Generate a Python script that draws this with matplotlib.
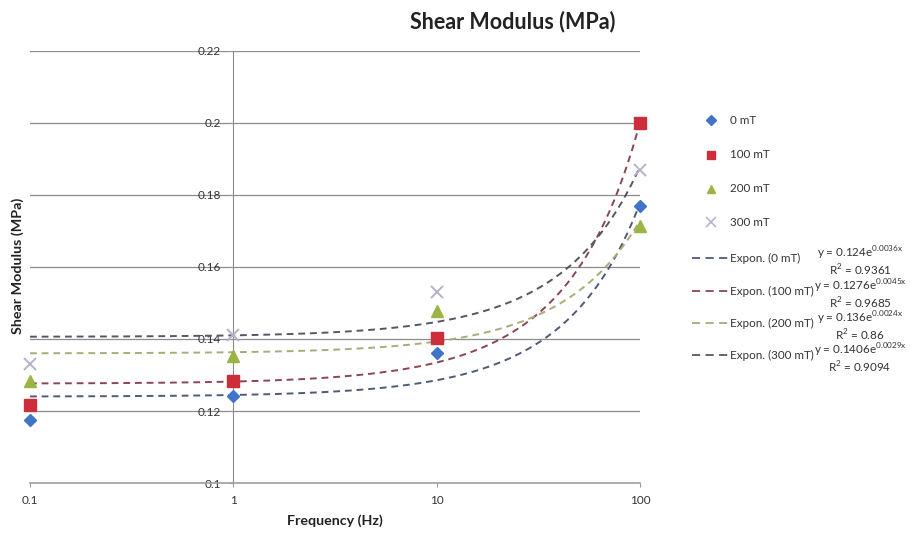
import numpy as np
import matplotlib
matplotlib.use("Agg")
import matplotlib.pyplot as plt
from matplotlib.lines import Line2D

plt.rcParams['font.family'] = ['Lato', 'DejaVu Sans']
plt.rcParams['mathtext.fontset'] = 'custom'
plt.rcParams['mathtext.rm'] = 'Lato'

# Measured shear modulus per field strength
freq = [0.1, 1, 10, 100]
series_names = ["0 mT", "100 mT", "200 mT", "300 mT"]
g_0mT = [0.1175, 0.1242, 0.1361, 0.1769]
g_100mT = [0.1217, 0.1283, 0.1403, 0.2000]
g_200mT = [0.1283, 0.1353, 0.1478, 0.1714]
g_300mT = [0.1330, 0.1411, 0.1530, 0.1869]

# Exponential fits y = a * exp(b * x)
fit_a = [0.124, 0.1276, 0.136, 0.1406]
fit_b = [0.0036, 0.0045, 0.0024, 0.0029]
fit_a_text = ["0.124", "0.1276", "0.136", "0.1406"]
fit_b_text = ["0.0036", "0.0045", "0.0024", "0.0029"]
fit_r2 = ["0.9361", "0.9685", "0.86", "0.9094"]

yticks = [0.1, 0.12, 0.14, 0.16, 0.18, 0.2, 0.22]
ytick_labels = ["0.1", "0.12", "0.14", "0.16", "0.18", "0.2", "0.22"]
xticks = [0.1, 1, 10, 100]
xtick_labels = ["0.1", "1", "10", "100"]

values = [g_0mT, g_100mT, g_200mT, g_300mT]
marker_colors = ["#3f74c8", "#cc2e3a", "#9bb544", "#b4b4cc"]
markers = ["D", "s", "^", "x"]
msizes = [6.5, 8, 8, 9]
trend_colors = ["#4e5a78", "#8a4654", "#a9ab78", "#555765"]

W, H = 910, 533
fig = plt.figure(figsize=(W / 100, H / 100), dpi=100)
ax = fig.add_axes([30 / W, 1 - 483 / H, (640 - 30) / W, (483 - 51) / H])

ax.set_xscale("log")
ax.set_xlim(0.1, 100)
ax.set_ylim(0.1, 0.22)
ax.minorticks_off()

ax.set_yticks(yticks)
ax.set_yticklabels(ytick_labels)
ax.set_xticks(xticks)
ax.set_xticklabels(xtick_labels)
ax.tick_params(axis="both", labelsize=8.5, colors="#333333", length=3, width=0.8)
ax.tick_params(axis="x", pad=6, color="#999999")
ax.tick_params(axis="y", color="#999999", pad=6)

for s in ["top", "right"]:
    ax.spines[s].set_visible(False)
ax.spines["left"].set_position(("data", 1))
ax.spines["left"].set_color("#8c8c8c")
ax.spines["bottom"].set_color("#a0a0a0")
ax.spines["bottom"].set_linewidth(1.2)
ax.yaxis.grid(True, color="#8c8c8c", linewidth=0.9)
ax.set_axisbelow(True)

xs = np.logspace(-1, 2, 400)
for a, b, c in zip(fit_a, fit_b, trend_colors):
    ax.plot(xs, a * np.exp(b * xs), linestyle=(0, (3.5, 2.5)), color=c, linewidth=1.4, zorder=2)

for v, m, c, ms in zip(values, markers, marker_colors, msizes):
    if m == "x":
        ax.plot(freq, v, linestyle="none", marker=m, markersize=ms, markeredgecolor=c,
                markeredgewidth=1.4, zorder=3, clip_on=False)
    else:
        ax.plot(freq, v, linestyle="none", marker=m, markersize=ms, color=c,
                markeredgecolor=c, zorder=3, clip_on=False)

fig.text(513 / W, 1 - 22 / H, "Shear Modulus (MPa)", ha="center", va="center",
         fontsize=15.5, fontweight="bold", color="#222222")
fig.text(335 / W, 1 - 521 / H, "Frequency (Hz)", ha="center", va="center",
         fontsize=10.3, fontweight="bold", color="#222222")
fig.text(18 / W, 1 - 266 / H, "Shear Modulus (MPa)", ha="center", va="center",
         rotation=90, fontsize=10.3, fontweight="bold", color="#222222")

# Legend drawn in figure pixel coordinates
def fx(px):
    return px / W

def fy(py):
    return 1 - py / H

marker_rows = [120, 155, 189, 222]
for name, m, c, ms, yy in zip(series_names, markers, marker_colors, msizes, marker_rows):
    kw = dict(marker=m, markersize=ms * 0.8, linestyle="none", transform=fig.transFigure)
    if m == "x":
        kw.update(markeredgecolor=c, markeredgewidth=1.2)
    else:
        kw.update(color=c, markeredgecolor=c)
    fig.add_artist(Line2D([fx(711)], [fy(yy)], **kw))
    fig.text(fx(730), fy(yy), name, ha="left", va="center", fontsize=8.4, color="#333333")

trend_rows = [258, 291, 323, 355]
for name, c, at, bt, r2, yy in zip(series_names, trend_colors, fit_a_text, fit_b_text, fit_r2, trend_rows):
    fig.add_artist(Line2D([fx(692), fx(728)], [fy(yy), fy(yy)], color=c, linewidth=1.3,
                          linestyle=(0, (4.5, 3.0)), transform=fig.transFigure))
    fig.text(fx(730), fy(yy), f"Expon. ({name})", ha="left", va="center", fontsize=8.4, color="#333333")
    fig.text(fx(860), fy(yy - 5), f"y = {at}e$^{{\\mathrm{{{bt}x}}}}$", ha="center", va="center",
             fontsize=8.4, color="#333333")
    fig.text(fx(860), fy(yy + 12), f"R$^{{\\mathrm{{2}}}}$ = {r2}", ha="center", va="center",
             fontsize=8.4, color="#333333")

fig.savefig("out.png", dpi=100)
